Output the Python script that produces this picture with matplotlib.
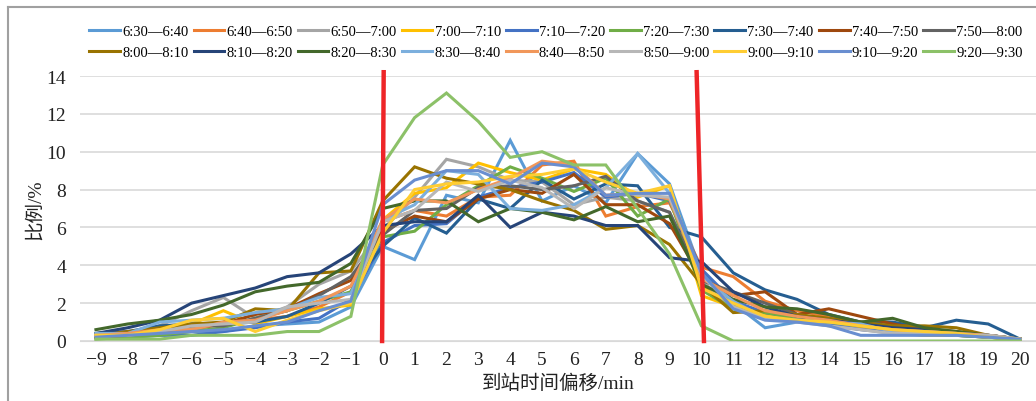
import matplotlib
matplotlib.use("Agg")
import matplotlib.pyplot as plt
from matplotlib.lines import Line2D

plt.rcParams['font.family'] = ['Liberation Serif', 'Noto Sans CJK SC', 'DejaVu Sans']

offsets = list(range(-9, 21))
tick_labels = [str(v).replace('-', '\u2212') for v in offsets]

periods = ['6:30\u20146:40', '6:40\u20146:50', '6:50\u20147:00', '7:00\u20147:10',
           '7:10\u20147:20', '7:20\u20147:30', '7:30\u20147:40', '7:40\u20147:50',
           '7:50\u20148:00', '8:00\u20148:10', '8:10\u20148:20', '8:20\u20148:30',
           '8:30\u20148:40', '8:40\u20148:50', '8:50\u20149:00', '9:00\u20149:10',
           '9:10\u20149:20', '9:20\u20149:30']

colors = ['#5B9BD5', '#ED7D31', '#A5A5A5', '#FFC000', '#4472C4', '#70AD47',
          '#255E91', '#9E480E', '#636363', '#997300', '#264478', '#43682B',
          '#7CAFDD', '#F1975A', '#B7B7B7', '#FFCD33', '#698ED0', '#8CC168']

# share (%) per arrival offset, -9 .. 20
s0630 = [0.3, 0.3, 0.4, 0.5, 0.5, 0.8, 0.9, 1.0, 1.8,
         5.0, 4.3, 7.7, 7.3, 10.6, 7.4, 8.2, 7.3, 9.9, 8.3,
         3.6, 2.0, 0.7, 1.0, 0.9, 0.8, 0.5, 0.4, 0.3, 0.3, 0.1]
s0640 = [0.2, 0.3, 0.5, 0.6, 0.9, 1.1, 1.3, 1.8, 2.6,
         6.3, 6.9, 6.6, 7.6, 7.7, 9.3, 9.5, 6.6, 7.1, 7.3,
         3.9, 3.4, 2.1, 1.6, 1.3, 1.0, 0.6, 0.5, 0.4, 0.2, 0.1]
s0650 = [0.3, 0.4, 0.8, 1.6, 2.3, 1.2, 1.8, 3.0, 3.7,
         5.9, 7.6, 9.6, 9.2, 8.5, 8.4, 7.2, 7.6, 7.4, 6.8,
         3.2, 1.7, 1.3, 1.1, 0.8, 0.6, 0.4, 0.3, 0.3, 0.2, 0.1]
s0700 = [0.3, 0.3, 0.6, 0.9, 1.6, 0.9, 1.3, 1.7, 1.9,
         6.4, 7.8, 8.1, 9.4, 8.9, 8.5, 9.1, 8.8, 7.6, 8.2,
         2.4, 1.8, 1.4, 1.2, 0.9, 0.7, 0.5, 0.3, 0.3, 0.2, 0.1]
s0710 = [0.2, 0.2, 0.3, 0.3, 0.5, 0.7, 1.0, 1.2, 2.2,
         5.2, 6.1, 6.2, 7.6, 8.1, 8.4, 8.9, 7.6, 7.8, 7.4,
         3.8, 2.1, 1.5, 1.2, 0.9, 0.6, 0.5, 0.4, 0.3, 0.2, 0.1]
s0720 = [0.1, 0.2, 0.3, 0.5, 0.7, 1.2, 1.6, 2.1, 2.6,
         5.5, 5.8, 7.2, 8.2, 9.2, 8.6, 7.9, 8.6, 6.6, 7.5,
         2.7, 1.7, 1.5, 1.2, 1.0, 0.8, 0.6, 0.4, 0.3, 0.2, 0.1]
s0730 = [0.4, 0.5, 0.8, 0.9, 0.9, 1.0, 1.3, 2.0, 2.9,
         5.0, 6.5, 5.7, 7.5, 7.0, 8.5, 7.5, 8.3, 8.2, 6.0,
         5.5, 3.6, 2.7, 2.2, 1.4, 1.0, 1.0, 0.7, 1.1, 0.9, 0.1]
s0740 = [0.2, 0.3, 0.6, 0.8, 0.9, 1.4, 1.7, 2.5, 3.2,
         5.8, 6.6, 6.3, 7.5, 8.0, 7.8, 8.8, 7.2, 7.2, 6.2,
         3.3, 2.4, 2.6, 1.4, 1.7, 1.3, 0.9, 0.6, 0.5, 0.3, 0.1]
s0750 = [0.3, 0.4, 0.6, 0.8, 0.8, 1.2, 1.6, 2.4, 3.4,
         5.6, 6.9, 7.0, 8.1, 8.2, 8.0, 8.2, 8.7, 7.4, 6.8,
         3.2, 2.6, 2.0, 1.4, 1.1, 0.8, 0.7, 0.6, 0.5, 0.2, 0.1]
s0800 = [0.3, 0.5, 0.7, 0.9, 1.0, 1.7, 1.6, 3.6, 3.7,
         7.4, 9.2, 8.6, 8.3, 8.0, 7.4, 6.9, 5.9, 6.1, 5.1,
         3.0, 1.5, 1.6, 1.4, 1.2, 1.0, 0.8, 0.8, 0.7, 0.3, 0.1]
s0810 = [0.4, 0.7, 1.1, 2.0, 2.4, 2.8, 3.4, 3.6, 4.6,
         6.1, 6.3, 6.3, 7.7, 6.0, 6.8, 6.6, 6.1, 6.1, 4.4,
         4.2, 2.6, 1.8, 1.3, 1.1, 0.9, 0.7, 0.6, 0.4, 0.3, 0.1]
s0820 = [0.6, 0.9, 1.1, 1.4, 1.9, 2.6, 2.9, 3.1, 4.1,
         7.0, 7.4, 7.4, 6.3, 7.0, 6.8, 6.4, 7.1, 6.3, 6.6,
         3.0, 2.2, 1.8, 1.7, 1.4, 1.0, 1.2, 0.7, 0.5, 0.3, 0.1]
s0830 = [0.4, 0.4, 1.0, 1.1, 1.2, 1.5, 1.7, 2.3, 2.5,
         6.4, 7.2, 9.0, 8.8, 7.0, 6.9, 7.2, 8.1, 9.9, 7.8,
         3.4, 2.1, 1.2, 1.1, 1.0, 0.9, 0.5, 0.5, 0.4, 0.3, 0.1]
s0840 = [0.3, 0.4, 0.6, 0.6, 1.0, 1.1, 1.6, 2.1, 2.9,
         6.4, 7.5, 7.3, 8.0, 8.6, 9.5, 9.3, 7.7, 7.8, 7.5,
         3.3, 2.4, 1.6, 1.3, 1.1, 0.8, 0.6, 0.5, 0.4, 0.3, 0.1]
s0850 = [0.3, 0.3, 0.5, 0.8, 0.9, 1.0, 1.8, 2.0, 2.2,
         6.3, 6.9, 8.4, 7.9, 8.5, 8.1, 7.0, 8.1, 7.7, 7.6,
         3.5, 1.8, 1.2, 1.0, 0.8, 0.6, 0.4, 0.4, 0.3, 0.3, 0.1]
s0900 = [0.3, 0.3, 0.6, 1.1, 1.2, 0.5, 1.1, 1.6, 2.0,
         5.7, 8.0, 8.3, 8.4, 8.7, 8.8, 9.1, 8.4, 7.8, 8.2,
         2.8, 2.0, 1.3, 1.1, 1.0, 0.8, 0.6, 0.5, 0.4, 0.2, 0.1]
s0910 = [0.2, 0.3, 0.4, 0.5, 0.6, 0.8, 1.0, 1.6, 2.1,
         7.2, 8.5, 9.0, 9.0, 8.3, 9.4, 9.2, 7.7, 7.8, 7.8,
         3.6, 1.7, 1.1, 1.0, 0.8, 0.3, 0.3, 0.3, 0.3, 0.2, 0.1]
s0920 = [0.1, 0.1, 0.1, 0.3, 0.3, 0.3, 0.5, 0.5, 1.3,
         9.3, 11.8, 13.1, 11.6, 9.7, 10.0, 9.3, 9.3, 7.0, 4.6,
         0.8, 0.0, 0.0, 0.0, 0.0, 0.0, 0.0, 0.0, 0.0, 0.0, 0.0]

series = [s0630, s0640, s0650, s0700, s0710, s0720, s0730, s0740, s0750,
          s0800, s0810, s0820, s0830, s0840, s0850, s0900, s0910, s0920]

fig = plt.figure(figsize=(10.36, 4.02), dpi=100)
ax = fig.add_axes([80 / 1036, 60 / 402, 956 / 1036, 265 / 402])

lines = []
for vals, col, lab in zip(series, colors, periods):
    ln, = ax.plot(offsets, vals, color=col, lw=2.2, label=lab, solid_joinstyle='miter')
    lines.append(ln)

# boundaries of the 10-minute window
ax.plot([0.03, -0.02], [14.2, 0], color='#EE2528', lw=3.2, clip_on=False, zorder=5)
ax.plot([9.85, 10.08], [14.2, 0], color='#EE2528', lw=3.2, clip_on=False, zorder=5)

ax.set_xlim(-9.5, 20.5)
ax.set_ylim(0, 14)
ax.set_yticks(range(0, 15, 2))
ax.set_xticks(offsets)
ax.set_xticklabels(tick_labels)
ax.grid(axis='y', color='#D9D9D9', lw=1.2)
ax.set_axisbelow(True)
for s in ['top', 'right', 'left']:
    ax.spines[s].set_visible(False)
ax.spines['bottom'].set_color('#D9D9D9')
ax.tick_params(length=0, labelsize=14, colors='#222222')
ax.tick_params(axis='x', pad=7)
ax.tick_params(axis='y', pad=10)
ax.set_xlabel('到站时间偏移/min', fontsize=14, color='#222222', labelpad=4)
ax.set_ylabel('比例/%', fontsize=14, color='#222222', labelpad=2)

# legend fills row by row, like the original
order = []
for c in range(9):
    order += [c, c + 9]
fig.legend([lines[i] for i in order], [periods[i] for i in order],
           loc='center', bbox_to_anchor=(556 / 1036, 1 - 43 / 402), ncol=9, frameon=False,
           fontsize=10.5, handlelength=2.1, handletextpad=0.15, columnspacing=0.35,
           labelspacing=0.5)

# chart frame
fig.add_artist(Line2D([8 / 1036, 8 / 1036], [0, 1 - 8 / 402], color='#A0A0A0', lw=1.5,
                      transform=fig.transFigure))
fig.add_artist(Line2D([8 / 1036, 1], [1 - 8 / 402, 1 - 8 / 402], color='#A0A0A0', lw=1.5,
                      transform=fig.transFigure))

fig.savefig('out.png', dpi=100)
